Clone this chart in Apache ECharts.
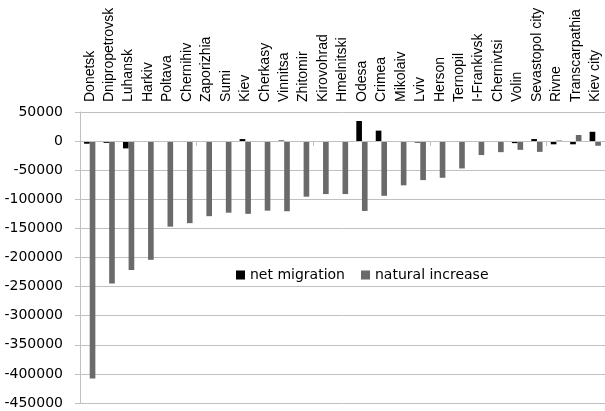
<!DOCTYPE html>
<html>
<head>
<meta charset="utf-8">
<script src="https://cdn.jsdelivr.net/npm/echarts@6/dist/echarts.min.js"></script>
<style>
  html, body { margin: 0; padding: 0; background: #fff; }
  #chart { width: 605px; height: 411px; }
</style>
</head>
<body>
<div id="chart"></div>
<script>
// Regions of Ukraine
const regions = [
  'Donetsk', 'Dnipropetrovsk', 'Luhansk', 'Harkiv', 'Poltava', 'Chernihiv',
  'Zaporizhia', 'Sumi', 'Kiev', 'Cherkasy', 'Vinnitsa', 'Zhitomir',
  'Kirovohrad', 'Hmelnitski', 'Odesa', 'Crimea', 'Mikolaiv', 'Lviv',
  'Herson', 'Ternopil', 'I-Frankivsk', 'Chernivtsi', 'Volin',
  'Sevastopol city', 'Rivne', 'Transcarpathia', 'Kiev city'
];

// Population change components
const netMigration = [
  -4500, -3000, -12500, -500, -1000, -1000,
  -800, -1000, 3500, -500, 1000, -1000,
  -500, -800, 34500, 18000, -1500, -2500,
  -1000, -800, -1000, -500, -3500,
  3500, -5500, -5500, 16000
];
const naturalIncrease = [
  -408000, -244500, -221500, -204000, -147000, -141000,
  -129000, -123000, -125000, -119500, -120500, -95500,
  -91000, -91000, -120000, -94000, -76000, -67000,
  -63000, -47000, -24000, -19000, -15000,
  -18500, 1000, 10500, -8000
];

// Value axis range
const yMin = -450000;
const yMax = 50000;
const yStep = 50000;

const gridGray = '#c0c0c0';

// main plot box
const plotLeft = 80, plotRight = -4, plotTop = 112, plotBottom = 8;
const plotHeight = 411 - plotTop - plotBottom;
// the baseline strip spans from the top of the plot down to the zero value
const zeroOffset = plotHeight * (yMax - 0) / (yMax - yMin);

const chart = echarts.init(document.getElementById('chart'), null, { renderer: 'canvas' });
chart.setOption({
  animation: false,
  backgroundColor: '#ffffff',
  grid: [
    { left: plotLeft, right: plotRight, top: plotTop, bottom: plotBottom },
    { left: plotLeft, right: plotRight, top: plotTop, height: zeroOffset }
  ],
  legend: {
    left: 231,
    top: 263,
    itemWidth: 9,
    itemHeight: 9,
    itemGap: 16,
    icon: 'rect',
    textStyle: { fontFamily: 'DejaVu Sans', fontSize: 14, color: '#000' },
    data: ['net migration', 'natural increase']
  },
  xAxis: [
    {
      // category names along the top edge
      type: 'category',
      gridIndex: 0,
      data: regions,
      position: 'top',
      axisLine: { show: false, onZero: false },
      axisTick: { show: false },
      axisLabel: {
        rotate: -90,
        margin: 10,
        interval: 0,
        fontFamily: 'Liberation Sans',
        fontSize: 14,
        color: '#000'
      }
    },
    {
      // zero baseline with boundary ticks
      type: 'category',
      gridIndex: 1,
      data: regions,
      position: 'bottom',
      axisLine: { show: true, onZero: false, lineStyle: { color: gridGray, width: 1 } },
      axisTick: { show: true, length: 5, lineStyle: { color: gridGray } },
      axisLabel: { show: false },
      z: 5
    }
  ],
  yAxis: [
    {
      type: 'value',
      gridIndex: 0,
      min: yMin,
      max: yMax,
      interval: yStep,
      axisLine: { show: true, lineStyle: { color: gridGray } },
      axisTick: { show: true, length: 5, lineStyle: { color: gridGray } },
      splitLine: { show: true, lineStyle: { color: gridGray, width: 1 } },
      axisLabel: {
        margin: 17,
        fontFamily: 'DejaVu Sans',
        fontSize: 14,
        color: '#000',
        formatter: (v) => String(v)
      }
    },
    {
      type: 'value',
      gridIndex: 1,
      show: false,
      min: 0,
      max: yMax
    }
  ],
  series: [
    {
      name: 'net migration',
      type: 'bar',
      xAxisIndex: 0,
      yAxisIndex: 0,
      data: netMigration,
      barWidth: '29%',
      barGap: '0%',
      itemStyle: { color: '#000000' }
    },
    {
      name: 'natural increase',
      type: 'bar',
      xAxisIndex: 0,
      yAxisIndex: 0,
      data: naturalIncrease,
      barWidth: '29%',
      barGap: '0%',
      itemStyle: { color: '#6a6a6a' }
    }
  ]
});
</script>
</body>
</html>
